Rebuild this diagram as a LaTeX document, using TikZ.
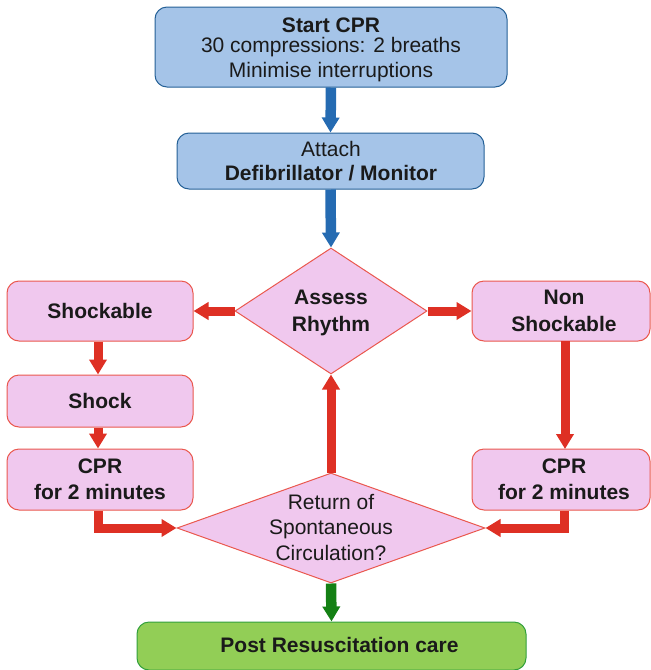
\documentclass[tikz,border=0pt]{standalone}
\usepackage{fontspec}
\setmainfont{Liberation Sans}
\usetikzlibrary{shapes.geometric,arrows.meta}

\definecolor{bluefill}{RGB}{165,196,232}
\definecolor{blueline}{RGB}{36,96,150}
\definecolor{bluearrow}{RGB}{37,107,178}
\definecolor{pinkfill}{RGB}{240,200,238}
\definecolor{pinkline}{RGB}{234,88,78}
\definecolor{redarrow}{RGB}{222,48,36}
\definecolor{greenfill}{RGB}{146,206,86}
\definecolor{greenline}{RGB}{50,160,60}
\definecolor{greenarrow}{RGB}{20,128,20}
\definecolor{ink}{RGB}{26,26,26}

\tikzset{
  box/.style={rectangle, rounded corners=12pt, inner sep=0pt, line width=1pt},
  bluebox/.style={box, draw=blueline, fill=bluefill},
  pinkbox/.style={box, draw=pinkline, fill=pinkfill},
  greenbox/.style={box, draw=greenline, fill=greenfill},
  decision/.style={diamond, inner sep=0pt, draw=pinkline, fill=pinkfill, line width=1pt},
  txt/.style={anchor=base, inner sep=0pt, text=ink, font=\fontsize{21}{25}\selectfont},
  btxt/.style={txt, font=\fontsize{21}{25}\selectfont\bfseries},
  flowline/.style={line width=#1, line join=miter, -{Triangle[width=17pt,length=15pt]}},
  blueflow/.style={flowline=10.5pt, draw=bluearrow},
  redflow/.style={flowline=9pt, draw=redarrow},
  greenflow/.style={flowline=10.5pt, draw=greenarrow},
}

\begin{document}
\begin{tikzpicture}[x=1pt, y=-1pt]
\useasboundingbox (0,0) rectangle (651,670);

% ends of the long arrow on the right-hand branch
\coordinate (nsOut) at (565,341);
\coordinate (cprRin) at (565,449);

% boxes and decisions
\node[bluebox, minimum width=352pt, minimum height=80pt] (start) at (331,47) {};
\node[bluebox, minimum width=307pt, minimum height=56pt] (attach) at (330.5,161) {};
\node[decision, minimum width=192pt, minimum height=126pt] (assess) at (331,311) {};
\node[pinkbox, minimum width=186pt, minimum height=60pt] (shockable) at (100,311) {};
\node[pinkbox, minimum width=186pt, minimum height=52pt] (shock) at (100,401) {};
\node[pinkbox, minimum width=186pt, minimum height=61pt] (cprL) at (100,479.5) {};
\node[pinkbox, minimum width=178pt, minimum height=60pt] (nonshock) at (561,311) {};
\node[pinkbox, minimum width=178pt, minimum height=61pt] (cprR) at (561,479.5) {};
\node[decision, minimum width=308pt, minimum height=110pt] (rosc) at (331,528) {};
\node[greenbox, minimum width=389pt, minimum height=48pt] (post) at (331.5,646) {};

% texts
\node[btxt] (t1) at (331,32) {Start CPR};
\node[txt]  (t2) at (331,52) {30 compressions: 2 breaths};
\node[txt]  (t3) at (331,77) {Minimise interruptions};
\node[txt]  (t4) at (331,156) {Attach};
\node[btxt] (t5) at (331,180) {Defibrillator / Monitor};
\node[btxt] (t6) at (331,304.5) {Assess};
\node[btxt] (t7) at (331,331) {Rhythm};
\node[btxt] (t8) at (100,318) {Shockable};
\node[btxt] (t9) at (100,408) {Shock};
\node[btxt] (t10) at (100,473) {CPR};
\node[btxt] (t11) at (100,499) {for 2 minutes};
\node[btxt] (t12) at (564,304.5) {Non};
\node[btxt] (t13) at (564,331) {Shockable};
\node[btxt] (t14) at (564,473) {CPR};
\node[btxt] (t15) at (564,499) {for 2 minutes};
\node[txt]  (t16) at (331,509) {Return of};
\node[txt]  (t17) at (331,534.5) {Spontaneous};
\node[txt]  (t18) at (331,560) {Circulation?};
\node[btxt] (t19) at (339.5,652) {Post Resuscitation care};

% connectors
\draw[blueflow] (start.south) -- (attach.north);
\draw[blueflow] (attach.south) -- (assess.north);
\draw[redflow] (assess.west) -- (shockable.east);
\draw[redflow] (assess.east) -- (nonshock.west);
\draw[redflow] ([xshift=-2pt]shockable.south) -- ([xshift=-2pt]shock.north);
\draw[redflow] ([xshift=-2pt]shock.south) -- ([xshift=-2pt]cprL.north);
\draw[redflow] (nsOut) -- (cprRin);
\draw[redflow] ([xshift=-2pt]cprL.south) |- (rosc.west);
\draw[redflow] ([xshift=3pt]cprR.south) |- (rosc.east);
\draw[redflow] (rosc.north) -- (assess.south);
\draw[greenflow] (rosc.south) -- (post.north);
\end{tikzpicture}
\end{document}
